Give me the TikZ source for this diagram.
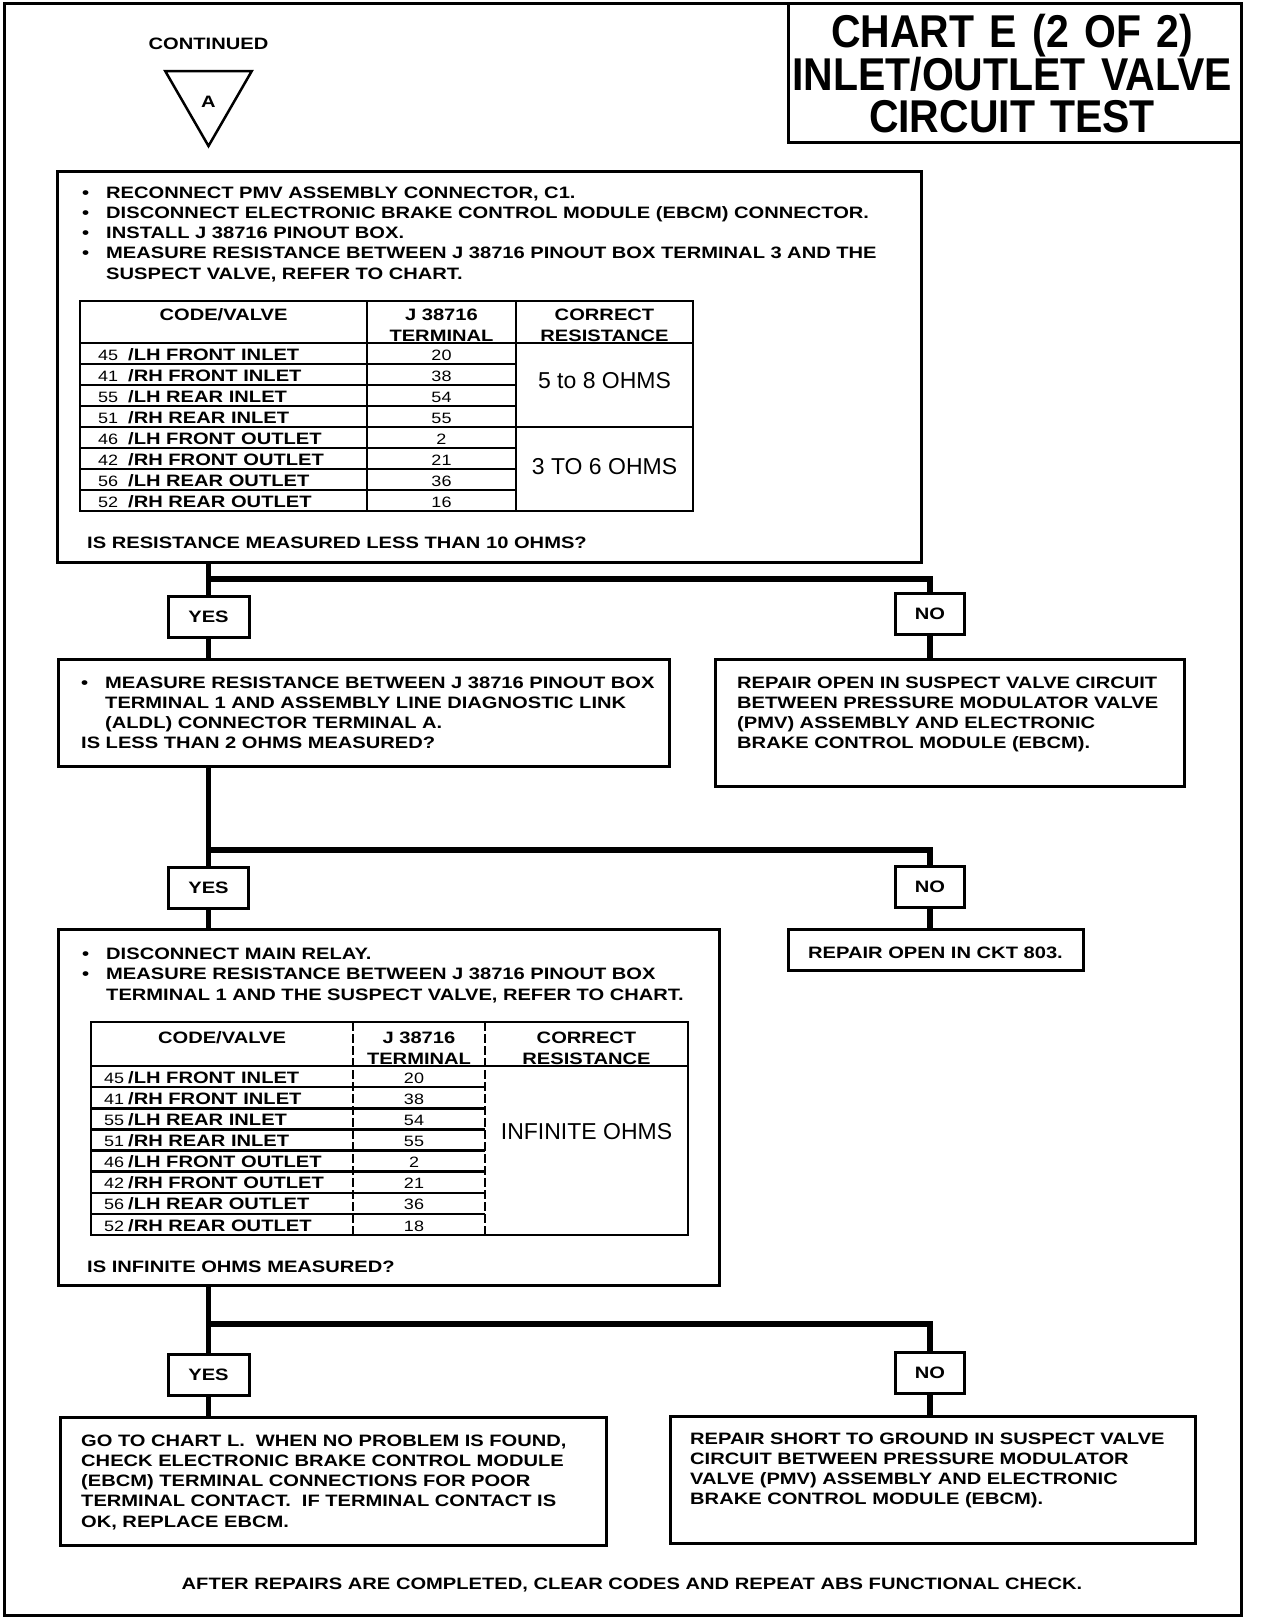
\documentclass[tikz,border=0pt]{standalone}
\usepackage{fontspec}
\setmainfont{Liberation Sans}
\newfontfamily\bodyfont{Liberation Sans}[FakeStretch=1.22]
\newfontfamily\numfont{Liberation Sans}[FakeStretch=1.2]
\newfontfamily\titlefont{Liberation Sans}[FakeStretch=0.89]
\usetikzlibrary{shapes.geometric}

\newcommand{\bodytext}{\bodyfont\bfseries\fontsize{16.5pt}{20.3pt}\selectfont}
\newcommand{\numtext}{\numfont\fontsize{15pt}{18pt}\selectfont}
\newcommand{\ohmtext}{\fontsize{23pt}{26pt}\selectfont}
\newcommand{\bul}{\makebox[24pt][l]{\textbullet}}
\newcommand{\bulind}{\hspace*{24pt}}

\begin{document}
\begin{tikzpicture}[x=1pt,y=-1pt,
  box/.style={draw, line width=3pt, anchor=north west, inner sep=0, outer sep=0},
  answer/.style={draw, line width=3pt, inner sep=0, outer sep=0, minimum height=41pt, font=\bodytext},
  txt/.style={anchor=base west, inner sep=0, align=left, font=\bodytext},
  hdr/.style={anchor=base, inner sep=0, align=center, text width=170pt, font=\bodyfont\bfseries\fontsize{16.5pt}{21pt}\selectfont},
  cell/.style={anchor=base west, inner sep=0, font=\numtext},
  vcell/.style={anchor=base west, inner sep=0, font=\bodytext},
  ncell/.style={anchor=base, inner sep=0, font=\numtext},
  link/.style={line width=5.5pt},
  grid/.style={line width=2.5pt}]
\useasboundingbox (0,0) rectangle (1264,1622);
\draw[line width=3pt] (4,3) rectangle (1241,1615);

% title
\node[box, minimum width=453pt, minimum height=139pt] (ttl) at (788,3) {};
\node[anchor=base, inner sep=0, align=center, text width=450pt,
  font=\titlefont\bfseries\fontsize{46pt}{42pt}\selectfont] (ttltext) at (1012,47)
  {CHART E (2 OF 2)\\INLET/OUTLET VALVE\\CIRCUIT TEST};

% entry point
\node[anchor=base, inner sep=0, font=\bodytext] (cont) at (208.5,49) {CONTINUED};
\node[regular polygon, regular polygon sides=3, shape border rotate=180, draw,
  line width=2.5pt, minimum size=100pt, inner sep=0, font=\bodytext] (contA) at (208.5,96) {\raisebox{-11pt}[0pt][0pt]{A}};

% first check
\node[box, minimum width=864pt, minimum height=391pt] (chk1) at (57,171) {};
\node[txt, text width=830pt] (chk1text) at (82,198) {\bul RECONNECT PMV ASSEMBLY CONNECTOR, C1.\\
\bul DISCONNECT ELECTRONIC BRAKE CONTROL MODULE (EBCM) CONNECTOR.\\
\bul INSTALL J 38716 PINOUT BOX.\\
\bul MEASURE RESISTANCE BETWEEN J 38716 PINOUT BOX TERMINAL 3 AND THE\\
\bulind SUSPECT VALVE, REFER TO CHART.};
\node[txt] (chk1q) at (87,548) {IS RESISTANCE MEASURED LESS THAN 10 OHMS?};

% table 1
\draw[grid] (80,301) rectangle (693,511);
\draw[grid] (80,343) -- (693,343) (367,301) -- (367,511) (516,301) -- (516,511) (80,427) -- (693,427);
\foreach \k in {1,2,3,5,6,7} \draw[grid] (80,343+21*\k) -- (516,343+21*\k);
\node[hdr] (hA1) at (223.5,320) {CODE/VALVE};
\node[hdr] (hA2) at (441.5,320) {J 38716\\TERMINAL};
\node[hdr] (hA3) at (604.5,320) {CORRECT\\RESISTANCE};
\foreach \code/\valve/\term [count=\i] in {45/LH FRONT INLET/20, 41/RH FRONT INLET/38,
  55/LH REAR INLET/54, 51/RH REAR INLET/55, 46/LH FRONT OUTLET/2, 42/RH FRONT OUTLET/21,
  56/LH REAR OUTLET/36, 52/RH REAR OUTLET/16}{
  \node[cell] (codeA\i) at (98,343+21*\i-4) {\code};
  \node[vcell] (valveA\i) at (128,343+21*\i-4) {/\valve};
  \node[ncell] (termA\i) at (441.5,343+21*\i-4) {\term};
}
\node[anchor=base, inner sep=0, font=\ohmtext] (ohmA1) at (604.5,388) {5 to 8 OHMS};
\node[anchor=base, inner sep=0, font=\ohmtext] (ohmA2) at (604.5,474) {3 TO 6 OHMS};

% first answer
\node[answer, minimum width=81pt] (yes1) at (208.5,617) {YES};
\node[answer, minimum width=69pt] (no1) at (930,614) {NO};
\draw[link] (yes1.north |- chk1.south) -- (yes1.north);
\draw[link] (yes1.north |- 0,579) -| (no1.north);

% second check
\node[box, minimum width=611pt, minimum height=107pt] (chk2) at (58,659) {};
\node[txt, text width=580pt] (chk2text) at (81,688) {\bul MEASURE RESISTANCE BETWEEN J 38716 PINOUT BOX\\
\bulind TERMINAL 1 AND ASSEMBLY LINE DIAGNOSTIC LINK\\
\bulind (ALDL) CONNECTOR TERMINAL A.\\
IS LESS THAN 2 OHMS MEASURED?};
\node[box, minimum width=469pt, minimum height=127pt] (fix1) at (715,659) {};
\node[txt, text width=460pt] (fix1text) at (737,688) {REPAIR OPEN IN SUSPECT VALVE CIRCUIT\\
BETWEEN PRESSURE MODULATOR VALVE\\
(PMV) ASSEMBLY AND ELECTRONIC\\
BRAKE CONTROL MODULE (EBCM).};
\draw[link] (yes1.south) -- (yes1.south |- chk2.north);
\draw[link] (no1.south) -- (no1.south |- fix1.north);

% second answer
\node[answer, minimum width=80pt] (yes2) at (208.5,887.5) {YES};
\node[answer, minimum width=69pt] (no2) at (930,887) {NO};
\draw[link] (yes2.north |- chk2.south) -- (yes2.north);
\draw[link] (yes2.north |- 0,850) -| (no2.north);

% third check
\node[box, minimum width=661pt, minimum height=356pt] (chk3) at (58,929) {};
\node[txt, text width=630pt] (chk3text) at (82,959.5) {\bul DISCONNECT MAIN RELAY.\\
\bul MEASURE RESISTANCE BETWEEN J 38716 PINOUT BOX\\
\bulind TERMINAL 1 AND THE SUSPECT VALVE, REFER TO CHART.};
\node[txt] (chk3q) at (87,1272) {IS INFINITE OHMS MEASURED?};
\node[box, minimum width=295pt, minimum height=41pt] (fix2) at (788,929) {};
\node[anchor=base, inner sep=0, font=\bodytext] (fix2text) at (935.5,958) {REPAIR OPEN IN CKT 803.};
\draw[link] (yes2.south) -- (yes2.south |- chk3.north);
\draw[link] (no2.south) -- (no2.south |- fix2.north);

% table 2
\draw[grid] (91,1022) rectangle (688,1235);
\draw[grid] (91,1066) -- (688,1066);
\draw[line width=1.5pt, dash pattern=on 9pt off 3pt] (353,1022) -- (353,1235) (485,1022) -- (485,1235);
\foreach \k in {1,...,7} \draw[grid] (91,1066+21.125*\k) -- (485,1066+21.125*\k);
\node[hdr] (hB1) at (222,1043) {CODE/VALVE};
\node[hdr] (hB2) at (419,1043) {J 38716\\TERMINAL};
\node[hdr] (hB3) at (586.5,1043) {CORRECT\\RESISTANCE};
\foreach \code/\valve/\term [count=\i] in {45/LH FRONT INLET/20, 41/RH FRONT INLET/38,
  55/LH REAR INLET/54, 51/RH REAR INLET/55, 46/LH FRONT OUTLET/2, 42/RH FRONT OUTLET/21,
  56/LH REAR OUTLET/36, 52/RH REAR OUTLET/18}{
  \node[cell] (codeB\i) at (104,1066+21.125*\i-4) {\code};
  \node[vcell] (valveB\i) at (128,1066+21.125*\i-4) {/\valve};
  \node[ncell] (termB\i) at (414,1066+21.125*\i-4) {\term};
}
\node[anchor=base, inner sep=0, font=\ohmtext] (ohmB) at (586.5,1139) {INFINITE OHMS};

% third answer
\node[answer, minimum width=81pt] (yes3) at (208.5,1375) {YES};
\node[answer, minimum width=69pt] (no3) at (930,1373) {NO};
\draw[link] (yes3.north |- chk3.south) -- (yes3.north);
\draw[link] (yes3.north |- 0,1324) -| (no3.north);

% results
\node[box, minimum width=546pt, minimum height=128pt] (fin1) at (60,1417) {};
\node[txt, text width=540pt] (fin1text) at (81,1446) {GO TO CHART L.\ \ WHEN NO PROBLEM IS FOUND,\\
CHECK ELECTRONIC BRAKE CONTROL MODULE\\
(EBCM) TERMINAL CONNECTIONS FOR POOR\\
TERMINAL CONTACT.\ \ IF TERMINAL CONTACT IS\\
OK, REPLACE EBCM.};
\node[box, minimum width=525pt, minimum height=127pt] (fin2) at (670,1416) {};
\node[txt, text width=500pt] (fin2text) at (690,1444) {REPAIR SHORT TO GROUND IN SUSPECT VALVE\\
CIRCUIT BETWEEN PRESSURE MODULATOR\\
VALVE (PMV) ASSEMBLY AND ELECTRONIC\\
BRAKE CONTROL MODULE (EBCM).};
\draw[link] (yes3.south) -- (yes3.south |- fin1.north);
\draw[link] (no3.south) -- (no3.south |- fin2.north);

\node[anchor=base, inner sep=0, font=\bodytext] (note) at (632,1589)
  {AFTER REPAIRS ARE COMPLETED, CLEAR CODES AND REPEAT ABS FUNCTIONAL CHECK.};
\end{tikzpicture}
\end{document}
